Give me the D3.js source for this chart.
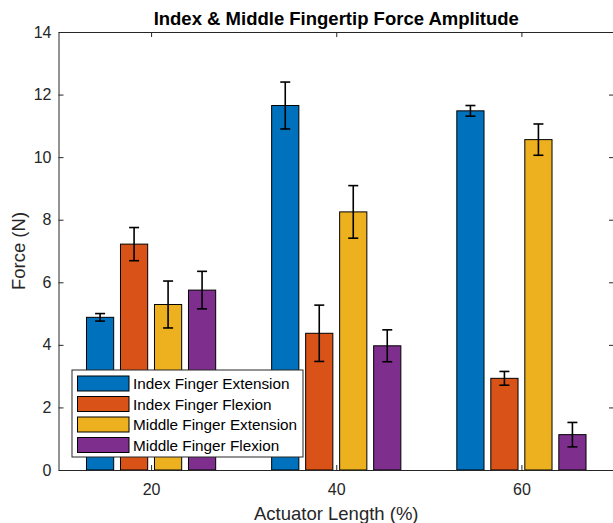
<!DOCTYPE html>
<html>
<head>
<meta charset="utf-8">
<script src="https://cdn.jsdelivr.net/npm/d3@7"></script>
<style>
  body { margin: 0; background: #fff; }
  svg { display: block; font-family: "Liberation Sans", Arial, sans-serif; }
</style>
</head>
<body>
<div id="chart"></div>
<script>
// actuator lengths (%)
var lengths = [20, 40, 60];
var seriesNames = ["Index Finger Extension", "Index Finger Flexion", "Middle Finger Extension", "Middle Finger Flexion"];
var seriesColors = ["#0072BD", "#D95319", "#EDB120", "#7E2F8E"];

// mean force (N) per series, one value per length
var indexExt = [4.88, 11.65, 11.48];
var indexFlex = [7.22, 4.37, 2.93];
var middleExt = [5.29, 8.25, 10.56];
var middleFlex = [5.75, 3.97, 1.13];

// error (N) per series
var indexExtErr = [0.12, 0.75, 0.17];
var indexFlexErr = [0.53, 0.90, 0.22];
var middleExtErr = [0.75, 0.84, 0.50];
var middleFlexErr = [0.60, 0.51, 0.39];

var yTicks = [0, 2, 4, 6, 8, 10, 12, 14];

var means = [indexExt, indexFlex, middleExt, middleFlex];
var errs = [indexExtErr, indexFlexErr, middleExtErr, middleFlexErr];

var W = 613, H = 523;
var axisCol = "#262626";

var svg = d3.select("#chart").append("svg")
	.attr("width", W)
	.attr("height", H);

var x = d3.scaleLinear().domain([10, 70]).range([58.5, 614]),
	y = d3.scaleLinear().domain([0, 14]).range([470, 32]);

// offsets of the 4 bars inside a group (px)
var inner = d3.scaleBand()
	.domain(d3.range(seriesNames.length))
	.range([-68, 68])
	.paddingInner(0.2)
	.paddingOuter(0.1);

var rows = [];
means.forEach(function(vals, s) {
	vals.forEach(function(v, i) {
		rows.push({s: s, len: lengths[i], val: v, err: errs[s][i]});
	});
});

var g = svg.append("g");

// bars
g.selectAll(".bar")
	.data(rows)
  .enter().append("rect")
	.attr("class", "bar")
	.attr("x", function(d) { return x(d.len) + inner(d.s); })
	.attr("y", function(d) { return y(d.val); })
	.attr("width", inner.bandwidth())
	.attr("height", function(d) { return y(0) - y(d.val); })
	.attr("fill", function(d) { return seriesColors[d.s]; })
	.attr("stroke", "#000")
	.attr("stroke-width", 1);

// error bars
var eb = g.selectAll(".err")
	.data(rows)
  .enter().append("g")
	.attr("class", "err")
	.attr("stroke", "#000")
	.attr("stroke-width", 1.6)
	.attr("transform", function(d) { return "translate(" + (x(d.len) + inner(d.s) + inner.bandwidth() / 2) + ",0)"; });
eb.append("line")
	.attr("y1", function(d) { return y(d.val + d.err); })
	.attr("y2", function(d) { return y(d.val - d.err); });
eb.append("line")
	.attr("x1", -5).attr("x2", 5)
	.attr("y1", function(d) { return y(d.val + d.err); })
	.attr("y2", function(d) { return y(d.val + d.err); });
eb.append("line")
	.attr("x1", -5).attr("x2", 5)
	.attr("y1", function(d) { return y(d.val - d.err); })
	.attr("y2", function(d) { return y(d.val - d.err); });

// axes (box on, ticks inward)
function styleAxis(sel) {
	sel.select(".domain").attr("stroke", axisCol);
	sel.selectAll(".tick line").attr("stroke", axisCol);
	sel.selectAll(".tick text").attr("fill", axisCol).attr("font-size", "16px");
}

g.append("g")
	.attr("transform", "translate(0," + y(0) + ")")
	.call(d3.axisBottom(x).tickValues(lengths).tickSizeInner(-5).tickSizeOuter(0).tickPadding(14))
	.call(styleAxis);

g.append("g")
	.attr("transform", "translate(0," + y(14) + ")")
	.call(d3.axisTop(x).tickValues(lengths).tickSizeInner(-5).tickSizeOuter(0).tickFormat(""))
	.call(styleAxis);

g.append("g")
	.attr("transform", "translate(" + x(10) + ",0)")
	.call(d3.axisLeft(y).tickValues(yTicks).tickSizeInner(-5).tickSizeOuter(0).tickPadding(7))
	.call(styleAxis);

g.append("g")
	.attr("transform", "translate(" + x(70) + ",0)")
	.call(d3.axisRight(y).tickValues(yTicks).tickSizeInner(-5).tickSizeOuter(0).tickFormat(""))
	.call(styleAxis);

// legend
var leg = svg.append("g").attr("transform", "translate(72,370)");
leg.append("rect")
	.attr("width", 231)
	.attr("height", 87)
	.attr("fill", "#fff")
	.attr("stroke", axisCol)
	.attr("stroke-width", 1);
var item = leg.selectAll(".item")
	.data(seriesNames)
  .enter().append("g")
	.attr("class", "item")
	.attr("transform", function(d, i) { return "translate(0," + (13.5 + i * 20.5) + ")"; });
item.append("rect")
	.attr("x", 5.5)
	.attr("y", -7.5)
	.attr("width", 51.5)
	.attr("height", 15)
	.attr("fill", function(d, i) { return seriesColors[i]; })
	.attr("stroke", "#000");
item.append("text")
	.attr("x", 61)
	.attr("y", 5.5)
	.attr("font-size", "15.3px")
	.attr("fill", "#000")
	.text(function(d) { return d; });

// title and labels
svg.append("text")
	.attr("x", (x(10) + x(70)) / 2)
	.attr("y", 25)
	.attr("text-anchor", "middle")
	.attr("font-size", "18.5px")
	.attr("font-weight", "bold")
	.attr("fill", "#000")
	.text("Index & Middle Fingertip Force Amplitude");

svg.append("text")
	.attr("x", (x(10) + x(70)) / 2)
	.attr("y", 520)
	.attr("text-anchor", "middle")
	.attr("font-size", "18.5px")
	.attr("fill", axisCol)
	.text("Actuator Length (%)");

svg.append("text")
	.attr("transform", "translate(25," + (y(7)) + ") rotate(-90)")
	.attr("text-anchor", "middle")
	.attr("font-size", "18.5px")
	.attr("fill", axisCol)
	.text("Force (N)");
</script>
</body>
</html>
